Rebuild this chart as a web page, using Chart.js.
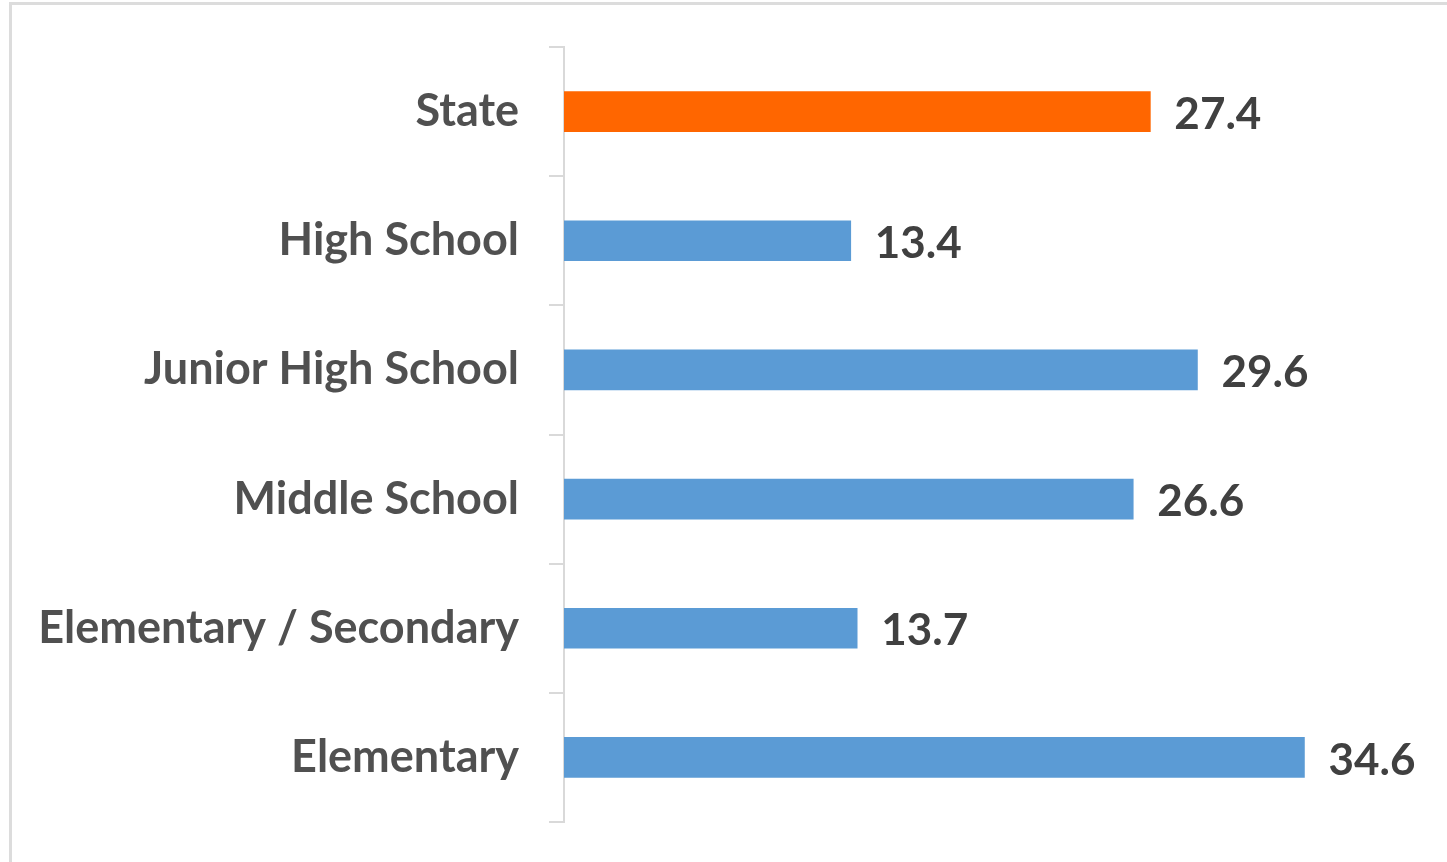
<!DOCTYPE html>
<html>
<head>
<meta charset="utf-8">
<script src="https://cdn.jsdelivr.net/npm/chart.js@4.4.0/dist/chart.umd.min.js"></script>
<style>
  html, body { margin: 0; padding: 0; background: #fff; }
  #wrap { position: relative; width: 1447px; height: 862px; overflow: hidden; }
  .frame { position: absolute; left: 9px; top: 2px; right: -10px; bottom: -10px;
    border-top: 3px solid #dcdcdc; border-left: 3px solid #dcdcdc; }
  canvas { position: absolute; left: 0; top: 0; }
</style>
</head>
<body>
<div id="wrap">
  <div class="frame"></div>
  <canvas id="myChart" width="1447" height="862"></canvas>
</div>
<script>
//---------------DATA-------------
let categories = ["State", "High School", "Junior High School", "Middle School", "Elementary / Secondary", "Elementary"],
  values = [27.4, 13.4, 29.6, 26.6, 13.7, 34.6],
  barColors = ["#FF6600", "#5B9BD5", "#5B9BD5", "#5B9BD5", "#5B9BD5", "#5B9BD5"];

//---------------VALUE LABELS AT BAR ENDS-------------
let valueLabels = {
  id: "valueLabels",
  afterDatasetsDraw(chart) {
    let ctx = chart.ctx;
    let meta = chart.getDatasetMeta(0);
    ctx.save();
    ctx.font = "bold 44px Lato";
    ctx.fillStyle = "#404040";
    ctx.textAlign = "left";
    ctx.textBaseline = "middle";
    meta.data.forEach((bar, i) => {
      ctx.fillText(values[i].toFixed(1), bar.x + 24, bar.y + 3);
    });
    ctx.restore();
  }
};

//---------------CHART-------------
let ctx = document.getElementById("myChart").getContext("2d");
let myChart = new Chart(ctx, {
  type: "bar",
  data: {
    labels: categories,
    datasets: [{
      data: values,
      backgroundColor: barColors,
      borderWidth: 0,
      barThickness: 40
    }]
  },
  options: {
    indexAxis: "y",
    responsive: false,
    animation: false,
    layout: { padding: { top: 47, bottom: 40, right: 27, left: 0 } },
    plugins: { legend: { display: false }, tooltip: { enabled: false } },
    scales: {
      x: { display: false, min: 0, max: 40 },
      y: {
        afterFit(scale) {
          scale.width = 564;
          scale.paddingTop = 0;
          scale.paddingBottom = 0;
        },
        grid: { display: true, drawOnChartArea: false, drawTicks: true, tickLength: 15,
          color: "#d9d9d9", lineWidth: 2, offset: true },
        border: { display: true, color: "#d9d9d9", width: 2 },
        ticks: { color: "#505050", font: { family: "Lato", size: 45, weight: "bold", lineHeight: 1 }, padding: 30 }
      }
    }
  },
  plugins: [valueLabels]
});
</script>
</body>
</html>
